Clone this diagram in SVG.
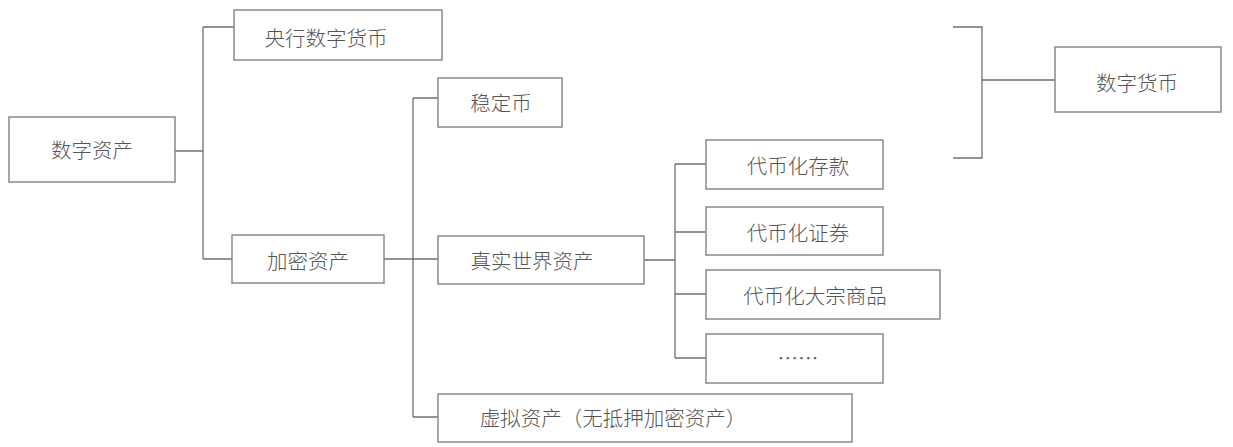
<svg xmlns="http://www.w3.org/2000/svg" width="1233" height="447" viewBox="0 0 1233 447">
<style>
.box{fill:#fff;stroke:#8a8a8a;stroke-width:1.5}
.ln{fill:none;stroke:#707070;stroke-width:1.3}
text{font-family:"Noto Sans CJK SC","Microsoft YaHei",sans-serif;font-size:20.5px;fill:#555;text-anchor:middle;dominant-baseline:central;font-weight:300}
</style>
<rect width="1233" height="447" fill="#fff"/>
<g id="connectors">
<path class="ln" d="M175,151H203M203,27V259M203,27H234M203,259H232"/>
<path class="ln" d="M384,259H438M413,98V417M413,98H438M413,417H438"/>
<path class="ln" d="M644,260H675M675,164V358M675,164H706M675,232H706M675,294H706M675,358H706"/>
<path class="ln" d="M953,27H982V158H953M982,80H1055"/>
</g>
<g id="n-digital-assets"><rect class="box" x="9" y="117" width="166" height="65"/><text x="92" y="149">数字资产</text></g>
<g id="n-cbdc"><rect class="box" x="234" y="10" width="208" height="50"/><text x="326" y="37">央行数字货币</text></g>
<g id="n-crypto"><rect class="box" x="232" y="235" width="152" height="48"/><text x="308" y="260">加密资产</text></g>
<g id="n-stable"><rect class="box" x="438" y="78" width="124" height="49"/><text x="501" y="102">稳定币</text></g>
<g id="n-rwa"><rect class="box" x="438" y="236" width="206" height="48"/><text x="532" y="260">真实世界资产</text></g>
<g id="n-virtual"><rect class="box" x="438" y="394" width="414" height="48"/><text x="613" y="417">虚拟资产（无抵押加密资产）</text></g>
<g id="n-deposit"><rect class="box" x="706" y="140" width="177" height="49"/><text x="798" y="165">代币化存款</text></g>
<g id="n-securities"><rect class="box" x="706" y="207" width="177" height="48"/><text x="798" y="232">代币化证券</text></g>
<g id="n-commodity"><rect class="box" x="706" y="270" width="234" height="49"/><text x="815" y="295">代币化大宗商品</text></g>
<g id="n-more"><rect class="box" x="706" y="334" width="177" height="49"/><text x="798" y="357">……</text></g>
<g id="n-digital-currency"><rect class="box" x="1055" y="47" width="166" height="65"/><text x="1137" y="82">数字货币</text></g>
</svg>
